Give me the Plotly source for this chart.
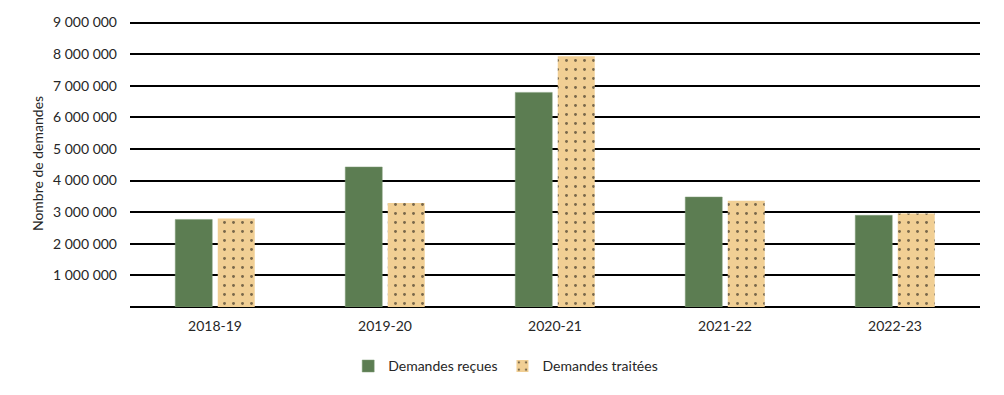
import plotly.graph_objects as go

categories = ["2018-19", "2019-20", "2020-21", "2021-22", "2022-23"]
recues = [2770000, 4430000, 6790000, 3480000, 2900000]
traitees = [2800000, 3290000, 7930000, 3360000, 2960000]
tick_vals = [1000000, 2000000, 3000000, 4000000, 5000000, 6000000, 7000000, 8000000, 9000000]

GREEN = "#5C7D52"
TAN = "#F1CF94"
FONT = "Lato"

fig = go.Figure()
fig.add_trace(go.Bar(
    x=categories, y=recues, name="Demandes reçues",
    marker=dict(color=GREEN, line=dict(color="#7E9A76", width=0.5)),
))
fig.add_trace(go.Bar(
    x=categories, y=traitees, name="Demandes traitées",
    marker=dict(color=TAN, line=dict(color=TAN, width=0),
                pattern=dict(shape=".", fgcolor="#000000", bgcolor=TAN, size=9, solidity=0.08)),
))

fig.update_layout(
    width=996, height=387,
    margin=dict(l=122, r=24, t=12, b=88, autoexpand=False),
    plot_bgcolor="white", paper_bgcolor="white",
    barmode="group", bargap=0.5, bargroupgap=0.13,
    separators=", ",
    font=dict(family=FONT, size=14, color="#262626"),
    showlegend=True,
    legend=dict(orientation="h", x=0.442, xanchor="center", y=-0.207, yanchor="middle",
                font=dict(size=14), traceorder="normal", itemwidth=30),
)
fig.update_yaxes(
    range=[0, 9080000], tickvals=tick_vals, tickformat=",d",
    showgrid=True, gridcolor="#000000", gridwidth=1.5,
    zeroline=True, zerolinecolor="#000000", zerolinewidth=2,
    showline=False, ticks="", ticklen=0, ticklabelstandoff=12,
    automargin=False,
    title=dict(text="Nombre de demandes", font=dict(size=14), standoff=6),
)
fig.update_xaxes(
    showline=False, showgrid=False, automargin=False,
    ticks="outside", ticklen=6, tickcolor="rgba(0,0,0,0)",
    tickfont=dict(size=14),
)

fig.write_html("out.html")
